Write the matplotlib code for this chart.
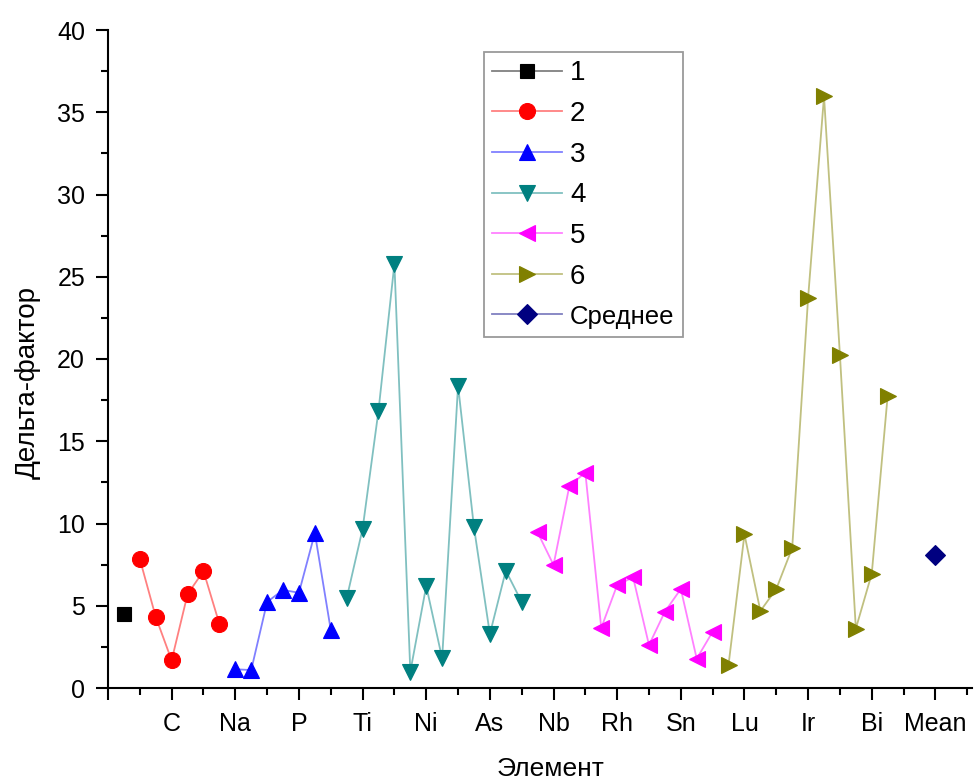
import matplotlib
matplotlib.use("Agg")
import matplotlib.pyplot as plt
from matplotlib.colors import to_rgb

plt.rcParams['font.family'] = ['Liberation Sans', 'DejaVu Sans']

# === DATA ===
series_labels = ['1', '2', '3', '4', '5', '6', 'Среднее']
series_start = [1, 2, 8, 15, 27, 39, 52]   # category position of the first point

s1 = [4.48]
s2 = [7.84, 4.32, 1.68, 5.70, 7.11, 3.90]
s3 = [1.14, 1.09, 5.23, 5.96, 5.79, 9.42, 3.53]
s4 = [5.45, 9.67, 16.86, 25.78, 0.99, 6.20, 1.80, 18.38, 9.77, 3.28, 7.13, 5.23]
s5 = [9.46, 7.48, 12.30, 13.09, 3.65, 6.26, 6.73, 2.61, 4.64, 6.02, 1.78, 3.42]
s6 = [1.42, 9.34, 4.68, 6.02, 8.51, 23.73, 35.97, 20.22, 3.61, 6.95, 17.77]
mean = [8.09]

tick_pos = [0, 4, 8, 12, 16, 20, 24, 28, 32, 36, 40, 44, 48, 52]
tick_labels = ['', 'C', 'Na', 'P', 'Ti', 'Ni', 'As', 'Nb', 'Rh', 'Sn', 'Lu', 'Ir', 'Bi', 'Mean']

# === STYLE ===
colors = ['#000000', '#FF0000', '#0000FF', '#008080', '#FF00FF', '#808000', '#000080']
markers = ['s', 'o', '^', 'v', '<', '>', 'D']
msizes = [10, 11.5, 12, 12, 12, 12, 10]


def lighter(c, a=0.5):
    r, g, b = to_rgb(c)
    return (1 - a + a * r, 1 - a + a * g, 1 - a + a * b)


fig = plt.figure(figsize=(9.74, 7.81), dpi=100)
ax = fig.add_axes([108 / 974, 93 / 781, 864 / 974, 658 / 781])

all_series = [s1, s2, s3, s4, s5, s6, mean]
for vals, start, lab, c, m, ms in zip(all_series, series_start, series_labels,
                                       colors, markers, msizes):
    xs = list(range(start, start + len(vals)))
    ax.plot(xs, vals, color=lighter(c), lw=1.3, marker=m, ms=ms,
            mfc=c, mec=c, mew=0.8, label=lab)

ax.set_xlim(0, 54.3)
ax.set_ylim(0, 40)
ax.set_xticks(tick_pos)
ax.set_xticklabels(tick_labels)
ax.set_xticks(range(2, 55, 4), minor=True)
ax.set_yticks(range(0, 41, 5))
ax.set_yticks([2.5 + 5 * i for i in range(8)], minor=True)

for s in ['top', 'right']:
    ax.spines[s].set_visible(False)
for s in ['left', 'bottom']:
    ax.spines[s].set_linewidth(1.5)
ax.tick_params(which='major', direction='out', length=8.5, width=1.5,
               labelsize=18)
ax.tick_params(axis='x', which='major', pad=9)
ax.tick_params(axis='y', which='major', pad=8)
ax.tick_params(which='minor', direction='out', length=5, width=1.5)

ax.set_xlabel('Элемент', fontsize=19)
ax.set_ylabel('Дельта-фактор', fontsize=20)
ax.xaxis.set_label_coords(0.5127, -0.1049)
ax.yaxis.set_label_coords(-0.0926, 0.465)
ax.yaxis.label.set_va('center')

leg = ax.legend(loc='upper left', bbox_to_anchor=(484 / 974, 1 - 52 / 781),
                bbox_transform=fig.transFigure, borderaxespad=0,
                fontsize=20, fancybox=False, edgecolor='#808080',
                handlelength=2.5, handletextpad=0.3, labelspacing=0.53,
                borderpad=0.3)
leg.get_frame().set_linewidth(1.3)
leg.get_texts()[-1].set_fontsize(18.5)

fig.savefig('out.png', dpi=100)
